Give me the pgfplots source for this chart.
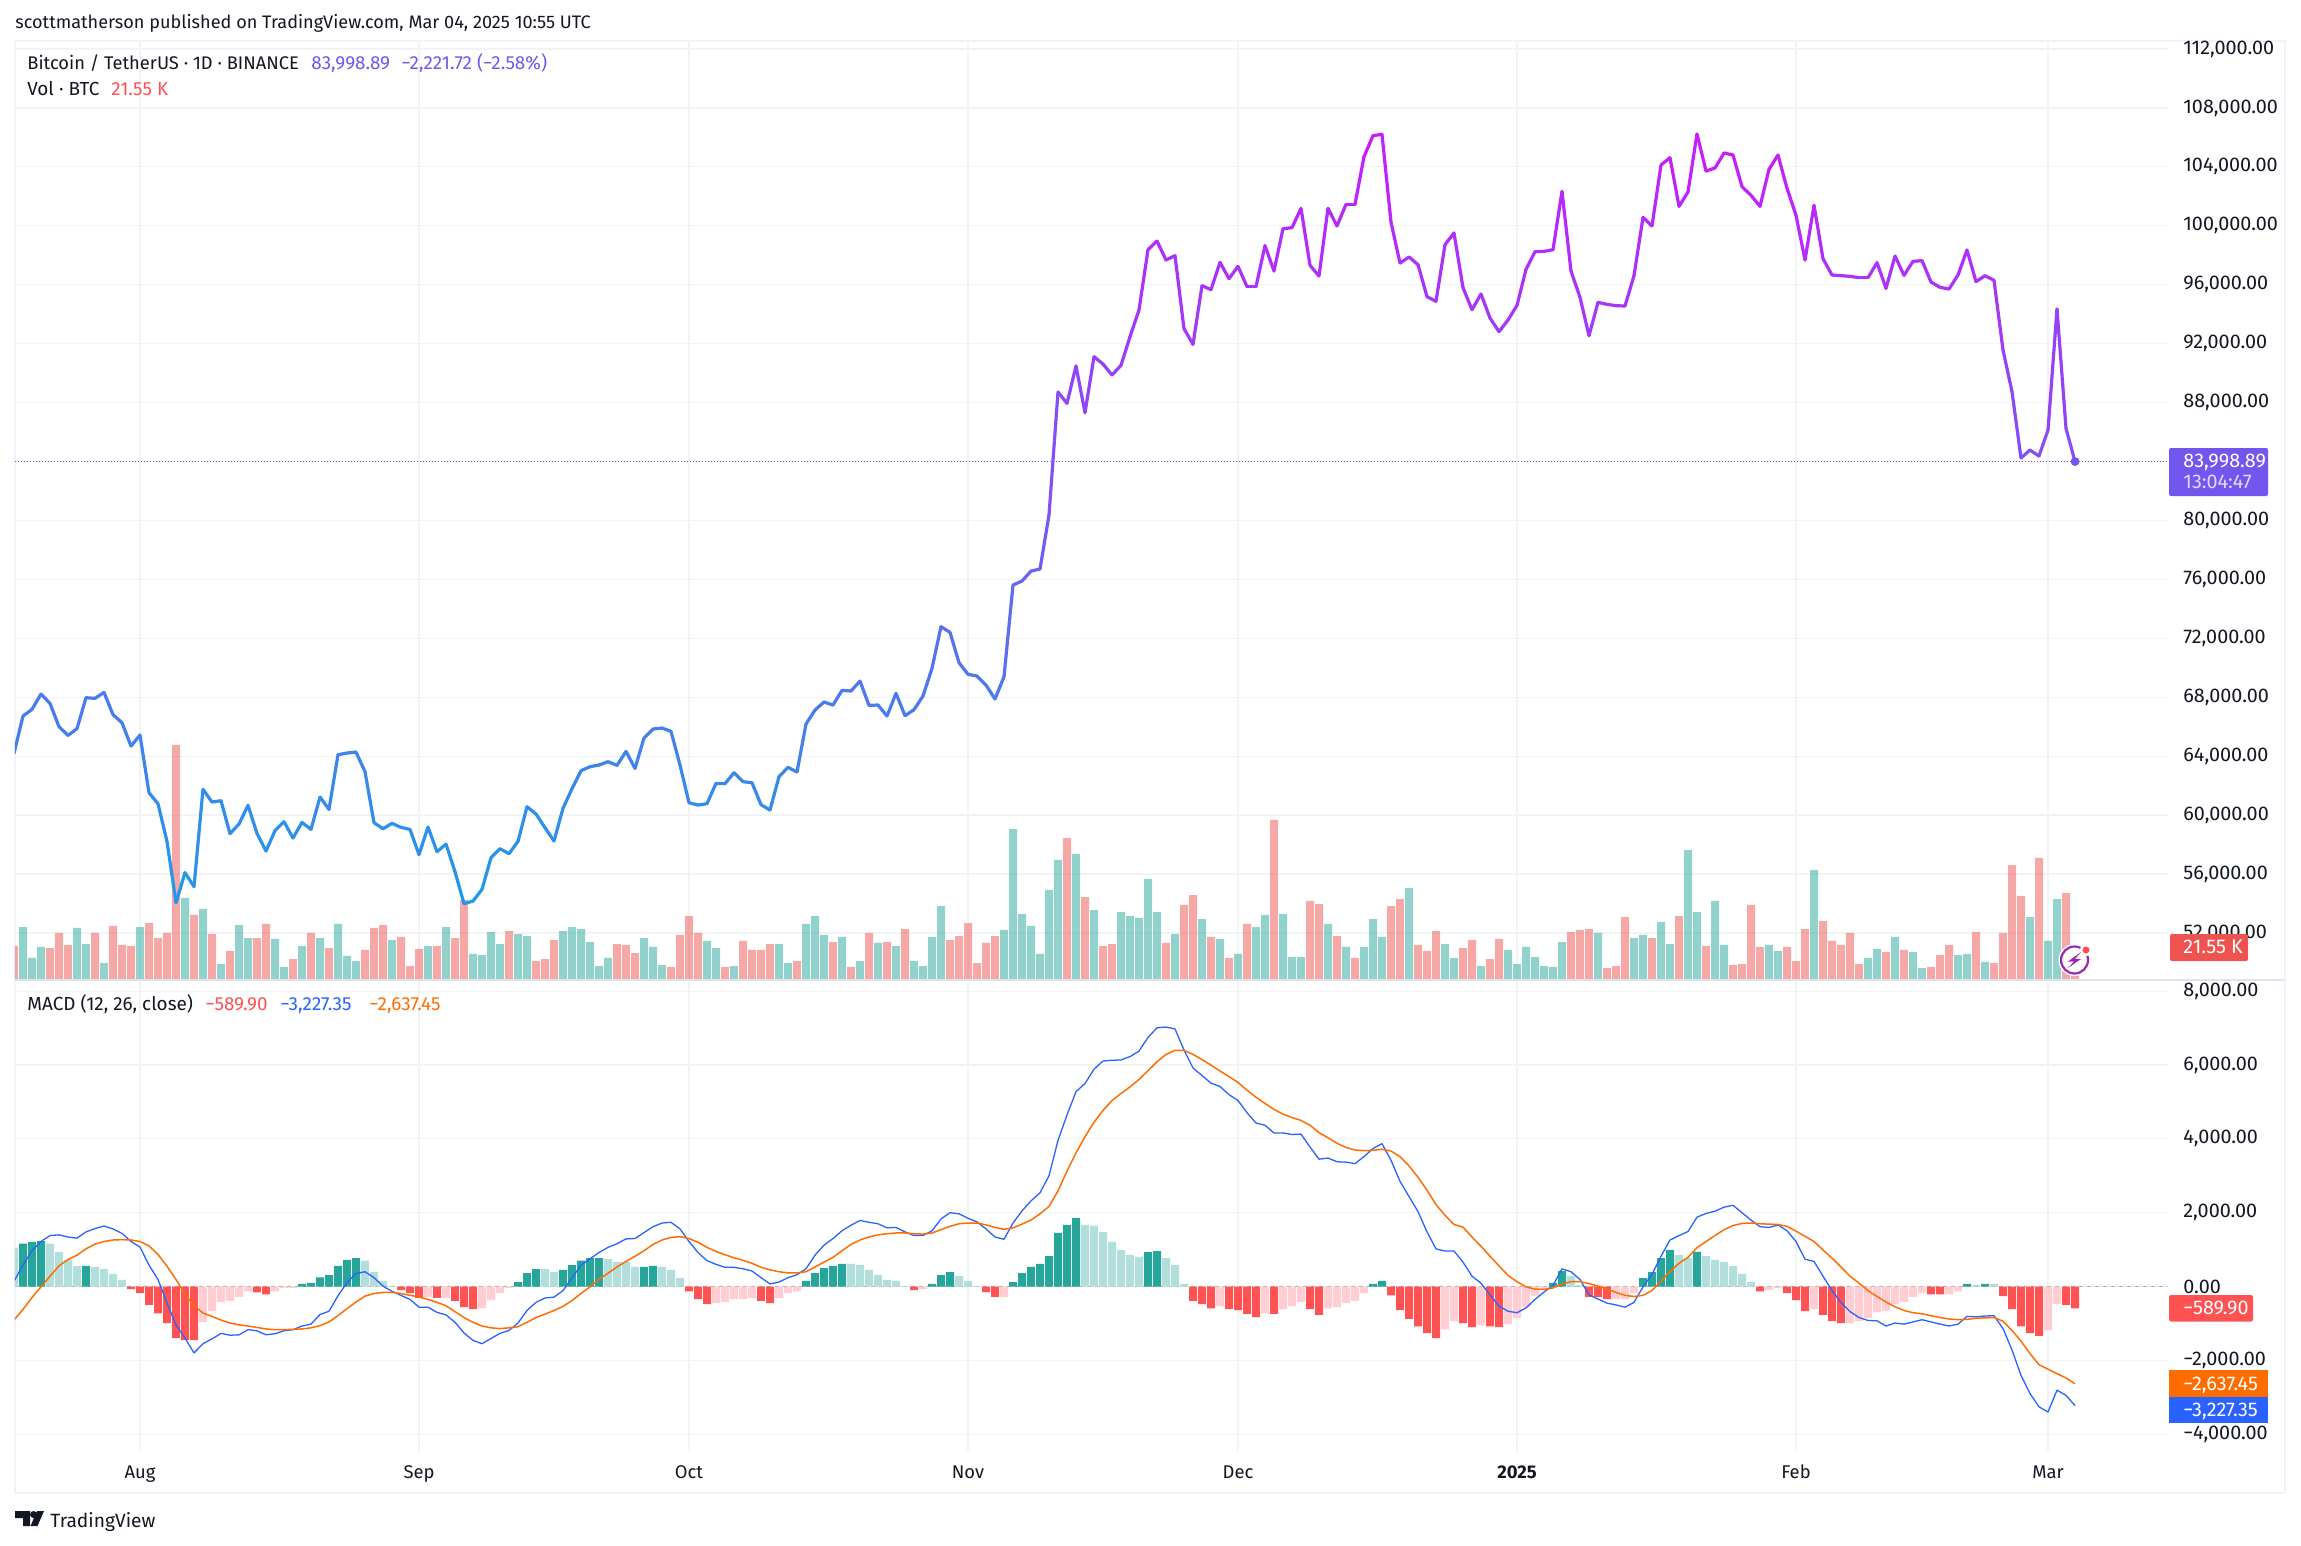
\documentclass[border=0pt]{standalone}
\usepackage{fontspec}
\setmainfont{Fira Sans}
\usepackage{pgfplots}
\usepackage{pgfplotstable}
\pgfplotsset{compat=1.18}

\definecolor{ink}{HTML}{131722}
\definecolor{gridc}{HTML}{F2F3F5}
\definecolor{framec}{HTML}{F0F3FA}
\definecolor{panec}{HTML}{E0E3EB}
\definecolor{up}{HTML}{26A69A}
\definecolor{down}{HTML}{EF5350}
\definecolor{upS}{HTML}{26A69A}
\definecolor{upW}{HTML}{B2DFDB}
\definecolor{dnS}{HTML}{FF5252}
\definecolor{dnW}{HTML}{FFCDD2}
\definecolor{macdc}{HTML}{2962FF}
\definecolor{sigc}{HTML}{FF6D00}
\definecolor{lastc}{HTML}{7356EE}
\definecolor{iconc}{HTML}{9C27B0}

\pgfplotsset{colormap={btc}{rgb255=(30,156,232) rgb255=(200,28,252)}}

\newcommand\cf{\fontsize{9.9pt}{11pt}\selectfont}
\newcommand\lf{\fontsize{9.45pt}{11pt}\selectfont}

% d = days from 1 Aug 2024; vc 1 up 0 down; hc 1 dark green, 2 light green, 3 red, 4 pink
\pgfplotstableread{
d close vol vc hist hc macd signal
-14 64189 22.2 0 1050 2 140 -910
-13 66724 34.6 1 1160 1 580 -620
-12 67176 14.4 1 1210 1 970 -300
-11 68217 21.6 1 1230 1 1220 -10
-10 67584 20.9 0 1160 2 1380 280
-9 66000 30.7 0 930 2 1400 560
-8 65411 22.9 0 720 2 1340 730
-7 65864 34.0 1 560 2 1310 850
-6 67968 23.5 1 560 1 1480 1020
-5 67923 30.7 0 530 2 1570 1150
-4 68330 11.1 1 470 2 1640 1220
-3 66814 35.3 0 340 2 1560 1260
-2 66271 22.9 0 180 2 1440 1270
-1 64687 22.2 0 -70 3 1220 1260
0 65434 34.6 1 -180 3 1070 1220
1 61519 37.2 0 -500 3 580 1100
2 60773 27.4 0 -730 3 190 870
3 58216 30.7 0 -990 3 -450 550
4 54053 153.5 0 -1400 3 -1040 190
5 56089 53.6 1 -1450 3 -1400 -210
6 55139 42.5 0 -1450 3 -1800 -520
7 61746 46.4 1 -960 4 -1550 -720
8 60886 30.0 0 -670 4 -1420 -810
9 60976 10.4 1 -420 4 -1270 -910
10 58736 18.9 0 -390 4 -1320 -990
11 59393 35.9 1 -280 4 -1310 -1040
12 60660 27.4 1 -130 4 -1170 -1070
13 58759 27.4 0 -160 3 -1200 -1110
14 57560 36.6 0 -210 3 -1310 -1150
15 58940 26.8 1 -130 4 -1280 -1170
16 59551 8.5 1 -40 4 -1200 -1170
17 58442 13.7 0 -40 4 -1170 -1160
18 59506 22.2 1 70 1 -1070 -1150
19 59031 30.7 0 100 1 -1020 -1120
20 61225 27.4 1 250 1 -760 -1060
21 60388 20.9 0 310 1 -670 -960
22 64099 36.6 1 560 1 -250 -790
23 64212 15.7 1 720 1 110 -600
24 64280 12.4 1 770 1 350 -420
25 62945 19.6 0 700 2 400 -260
26 59483 34.0 0 390 2 240 -190
27 59076 35.9 0 150 2 10 -160
28 59438 26.1 1 20 2 -130 -160
29 59166 28.1 0 -100 3 -240 -190
30 59031 9.1 0 -180 3 -350 -240
31 57311 20.2 0 -310 3 -560 -280
32 59189 22.2 1 -280 4 -560 -350
33 57515 22.2 0 -310 3 -700 -430
34 58035 34.6 1 -310 4 -770 -520
35 56157 27.4 0 -390 3 -970 -680
36 53985 52.2 0 -560 3 -1260 -840
37 54166 17.0 1 -610 3 -1460 -970
38 54958 16.3 1 -590 4 -1550 -1070
39 57107 31.3 1 -370 4 -1410 -1120
40 57718 23.5 1 -180 4 -1270 -1140
41 57379 32.0 0 -40 4 -1190 -1120
42 58216 30.0 1 120 1 -990 -1090
43 60569 28.7 1 360 1 -650 -970
44 60071 12.4 0 470 1 -430 -840
45 59144 13.7 0 470 2 -310 -750
46 58239 26.1 0 390 2 -290 -650
47 60456 32.0 1 450 1 -110 -540
48 61791 34.6 1 580 1 230 -380
49 63013 33.3 1 700 1 580 -190
50 63284 24.8 1 770 1 750 -10
51 63398 9.1 1 770 1 920 190
52 63624 14.4 1 740 2 1060 360
53 63375 23.5 0 670 2 1160 530
54 64325 22.9 0 670 2 1290 680
55 63171 17.6 0 530 2 1300 820
56 65230 27.4 1 530 1 1460 970
57 65841 21.6 1 560 1 1620 1140
58 65909 9.8 1 530 2 1720 1260
59 65683 8.5 0 450 2 1740 1330
60 63398 29.4 0 230 2 1560 1350
61 60841 41.8 0 -130 3 1220 1300
62 60682 30.7 0 -340 3 920 1200
63 60773 25.5 1 -480 3 700 1060
64 62153 20.9 1 -450 4 600 950
65 62130 8.5 0 -420 4 520 860
66 62877 9.1 1 -340 4 520 780
67 62266 25.5 0 -340 4 480 710
68 62198 19.6 0 -310 4 420 630
69 60705 19.6 0 -390 3 240 520
70 60343 23.5 0 -450 3 70 450
71 62606 23.5 1 -310 4 120 400
72 63239 11.1 1 -180 4 240 370
73 62922 12.4 0 -130 4 320 370
74 66181 36.6 1 150 1 480 400
75 67131 41.8 1 360 1 850 530
76 67674 29.4 1 500 1 1120 660
77 67471 24.8 0 560 1 1300 790
78 68466 28.1 1 610 1 1510 970
79 68421 8.5 0 610 2 1660 1140
80 69100 12.4 1 580 2 1790 1260
81 67448 30.7 0 450 2 1740 1340
82 67471 24.2 1 310 2 1700 1400
83 66724 24.8 0 180 2 1590 1430
84 68263 22.2 1 150 2 1600 1450
85 66747 33.3 0 10 2 1480 1450
86 67154 12.4 1 -100 3 1380 1430
87 68082 9.1 1 -70 4 1380 1420
88 69960 28.1 1 70 1 1510 1450
89 72788 48.3 1 310 1 1830 1540
90 72403 26.1 0 390 1 2000 1630
91 70344 28.7 0 280 2 1970 1700
92 69552 37.2 0 150 2 1850 1720
93 69439 11.1 0 10 2 1750 1720
94 68828 24.2 0 -150 3 1560 1670
95 67878 28.7 0 -280 3 1340 1600
96 69394 32.7 1 -280 4 1280 1550
97 75616 98.6 1 120 1 1720 1590
98 75887 43.1 1 360 1 2050 1690
99 76566 35.3 1 530 1 2320 1800
100 76702 17.0 1 610 1 2540 1970
101 80367 58.8 1 820 1 3000 2170
102 88717 78.4 1 1450 1 3960 2590
103 87947 92.7 0 1670 1 4650 3130
104 90482 82.3 1 1860 1 5280 3620
105 87314 54.2 0 1670 2 5500 4060
106 91115 45.7 1 1650 2 5890 4450
107 90617 22.2 0 1480 2 6110 4770
108 89871 23.5 0 1210 2 6130 5040
109 90527 44.4 1 990 2 6140 5230
110 92473 41.8 1 850 2 6230 5410
111 94283 40.5 1 800 2 6380 5610
112 98378 66.0 1 930 1 6750 5850
113 98967 44.4 1 960 1 7010 6090
114 97677 24.2 0 770 2 7030 6290
115 97971 30.0 1 580 2 6980 6400
116 93016 49.0 0 70 2 6410 6400
117 91952 55.5 0 -390 3 5920 6290
118 95935 39.8 1 -480 3 5720 6150
119 95663 28.1 0 -590 3 5510 6000
120 97519 26.8 1 -530 4 5420 5840
121 96410 14.4 0 -610 3 5200 5690
122 97247 17.0 1 -640 3 5040 5530
123 95867 36.6 0 -740 3 4710 5320
124 95867 34.6 1 -830 3 4430 5130
125 98650 42.5 1 -730 4 4370 4960
126 96930 104.5 0 -740 3 4160 4800
127 99804 43.1 1 -610 4 4160 4670
128 99872 15.0 1 -530 4 4120 4580
129 101184 15.0 1 -420 4 4130 4500
130 97315 51.6 0 -610 3 3780 4370
131 96591 49.6 0 -770 3 3450 4170
132 101184 36.6 1 -590 4 3480 4030
133 99985 28.7 0 -560 4 3380 3880
134 101456 21.6 1 -450 4 3370 3770
135 101456 14.4 0 -390 4 3330 3700
136 104691 21.6 1 -180 4 3520 3680
137 106117 39.8 1 70 1 3740 3690
138 106207 28.1 1 150 1 3870 3720
139 100234 48.3 0 -240 3 3420 3670
140 97473 52.9 0 -640 3 2850 3520
141 97881 60.1 1 -880 3 2440 3270
142 97360 22.9 0 -1080 3 2030 2960
143 95188 18.9 0 -1260 3 1480 2610
144 94871 32.0 0 -1400 3 1020 2220
145 98718 23.5 1 -1160 4 960 1930
146 99510 14.4 1 -940 4 960 1680
147 95799 20.9 0 -990 3 660 1610
148 94306 26.1 0 -1100 3 280 1340
149 95369 9.1 1 -1050 4 90 1090
150 93740 13.7 0 -1080 3 -230 820
151 92812 26.8 0 -1100 3 -530 560
152 93604 19.6 1 -1020 4 -670 300
153 94600 10.4 1 -850 4 -710 130
154 97043 21.6 1 -560 4 -580 -10
155 98243 15.0 1 -260 4 -350 -70
156 98265 9.1 1 -70 4 -150 -80
157 98378 8.5 1 100 1 30 -40
158 102338 24.8 1 420 1 480 70
159 96930 31.3 0 280 2 400 130
160 95143 32.7 0 40 2 190 130
161 92541 33.3 0 -280 3 -230 80
162 94803 30.7 1 -280 3 -340 10
163 94668 7.8 0 -340 3 -450 -70
164 94577 9.1 0 -340 4 -500 -160
165 94555 41.1 0 -340 4 -560 -240
166 96614 27.4 1 -180 4 -430 -270
167 100573 29.4 1 230 1 -10 -240
168 99985 27.4 0 390 1 330 -110
169 104126 37.9 1 770 1 820 140
170 104624 23.5 1 990 1 1260 400
171 101320 41.8 0 850 2 1380 630
172 102293 84.9 1 770 2 1490 790
173 106230 44.4 1 940 1 1880 1050
174 103718 22.2 0 820 2 1980 1220
175 103922 51.6 1 720 2 2040 1380
176 104940 22.9 1 670 2 2150 1540
177 104805 9.8 0 560 2 2200 1650
178 102655 10.4 0 340 2 2000 1710
179 102067 49.0 0 120 2 1800 1720
180 101320 21.6 0 -130 3 1620 1700
181 103832 22.9 1 -100 4 1600 1690
182 104805 18.9 1 -40 4 1670 1680
183 102542 21.6 0 -180 3 1510 1630
184 100709 12.4 0 -370 3 1220 1500
185 97677 33.3 0 -670 3 740 1360
186 101388 71.8 1 -610 4 680 1220
187 97768 38.5 0 -770 3 280 990
188 96659 25.5 0 -940 3 -110 770
189 96614 22.9 0 -990 3 -430 530
190 96568 30.7 0 -990 4 -680 280
191 96478 10.4 0 -940 4 -840 90
192 96478 14.4 1 -850 4 -920 -110
193 97496 20.2 1 -700 4 -930 -270
194 95754 18.3 0 -670 4 -1070 -420
195 97949 28.1 1 -480 4 -990 -550
196 96636 19.6 0 -420 4 -1020 -650
197 97587 18.3 1 -280 4 -960 -710
198 97632 7.8 1 -180 4 -900 -740
199 96184 8.5 0 -210 3 -960 -790
200 95822 16.3 0 -210 3 -1020 -840
201 95708 22.9 0 -210 4 -1070 -880
202 96659 16.3 1 -130 4 -1020 -900
203 98356 17.0 1 70 1 -810 -890
204 96206 31.3 0 40 2 -820 -860
205 96614 11.8 1 70 1 -800 -850
206 96297 11.1 0 70 2 -790 -840
207 91568 30.7 0 -260 3 -1140 -940
208 88739 75.1 0 -610 3 -1720 -1190
209 84237 54.9 0 -1080 3 -2410 -1480
210 84780 41.1 1 -1260 3 -2900 -1820
211 84372 79.7 0 -1340 3 -3260 -2120
212 86137 25.5 1 -1190 4 -3400 -2240
213 94351 52.9 1 -480 4 -2810 -2360
214 86250 56.8 0 -500 3 -2950 -2480
215 83998.89 21.55 0 -589.90 3 -3227.35 -2637.45
}\btc

\pgfplotsset{
  pane/.style={
    scale only axis, width=1076.5pt,
    xmin=-13.889, xmax=225.333,
    axis line style={draw=none}, major tick length=0pt,
    scaled ticks=false,
    xtick={0,31,61,92,122,153,184,212},
    xmajorgrids, ymajorgrids,
    major grid style={draw=gridc, line width=0.6pt},
    yticklabel pos=right,
    yticklabel style={font=\cf, text=ink, anchor=west, inner sep=0pt, xshift=7.5pt},
    xticklabel style={font=\fontsize{9.2pt}{11pt}\selectfont, text=ink},
  },
  overlay pane/.style={
    scale only axis, width=1076.5pt, height=469.5pt,
    xmin=-13.889, xmax=225.333, hide axis,
    at={(7.5pt,-490pt)}, anchor=south west,
  },
  volbar/.style={ybar, bar width=4pt, bar shift=0pt, draw=none, fill opacity=0.5},
  histbar/.style={ybar, bar width=4pt, bar shift=0pt, draw=none},
}

\begin{document}
\begin{tikzpicture}
\useasboundingbox (0pt,0pt) rectangle (1150.5pt,-773pt);
\fill[white] (0pt,0pt) rectangle (1150.5pt,-773pt);
\draw[framec, line width=1pt] (7.5pt,-20.5pt) rectangle (1142.5pt,-746.3pt);

% price scale and grid
\begin{axis}[pane, height=469.5pt, at={(7.5pt,-490pt)}, anchor=south west,
    ymin=48806, ymax=112543,
    xticklabel=\empty,
    ytick={52000,56000,60000,64000,68000,72000,76000,80000,88000,92000,96000,100000,104000,108000,112000},
    yticklabels={{52,000.00},{56,000.00},{60,000.00},{64,000.00},{68,000.00},{72,000.00},{76,000.00},{80,000.00},{88,000.00},{92,000.00},{96,000.00},{100,000.00},{104,000.00},{108,000.00},{112,000.00}},
]
\addplot[lastc, line width=0.5pt, dash pattern=on 0.6pt off 0.9pt] coordinates {(-13.889,83998.89) (225.333,83998.89)};
\end{axis}

% volume
\begin{axis}[overlay pane, ymin=0, ymax=613.2]
\addplot[volbar, fill=up] table[x=d, y=vol, restrict expr to domain={\thisrow{vc}}{1:1}] {\btc};
\addplot[volbar, fill=down] table[x=d, y=vol, restrict expr to domain={\thisrow{vc}}{0:0}] {\btc};
\end{axis}

% close line, coloured by price
\begin{axis}[overlay pane, ymin=48806, ymax=112543,
    colormap name=btc, point meta min=54000, point meta max=106000]
\addplot[mesh, point meta=y, line width=1.6pt, line cap=round, line join=round] table[x=d, y=close] {\btc};
\addplot[only marks, lastc, mark=*, mark size=2pt, mark options={draw=lastc, fill=lastc}] coordinates {(215,83998.89)};
\end{axis}

% MACD pane
\begin{axis}[pane, height=235.5pt, at={(7.5pt,-725.5pt)}, anchor=south west,
    ymin=-4458, ymax=8306,
    xticklabels={Aug,Sep,Oct,Nov,Dec,{\bfseries 2025},Feb,Mar},
    xticklabel style={anchor=base, yshift=-13.5pt, inner sep=0pt},
    ytick={-4000,-2000,0,2000,4000,6000,8000},
    yticklabels={{−4,000.00},{−2,000.00},{0.00},{2,000.00},{4,000.00},{6,000.00},{8,000.00}},
]
\addplot[gray!70, line width=0.5pt, dash pattern=on 2pt off 2pt] coordinates {(-13.889,0) (225.333,0)};
\addplot[histbar, fill=upS] table[x=d, y=hist, restrict expr to domain={\thisrow{hc}}{1:1}] {\btc};
\addplot[histbar, fill=upW] table[x=d, y=hist, restrict expr to domain={\thisrow{hc}}{2:2}] {\btc};
\addplot[histbar, fill=dnS] table[x=d, y=hist, restrict expr to domain={\thisrow{hc}}{3:3}] {\btc};
\addplot[histbar, fill=dnW] table[x=d, y=hist, restrict expr to domain={\thisrow{hc}}{4:4}] {\btc};
\addplot[macdc, line width=0.65pt, line join=round] table[x=d, y=macd] {\btc};
\addplot[sigc, line width=0.75pt, line join=round] table[x=d, y=signal] {\btc};
\end{axis}

% header, legends, tags (positions in image pixels)
\begin{scope}[x=0.5pt, y=-0.5pt, every node/.style={anchor=base west, inner sep=0pt, font=\lf, text=ink}]
\draw[panec, line width=0.8pt] (15,980) -- (2285,980);

\node[font=\fontsize{9.05pt}{11pt}\selectfont] at (15,29) {scottmatherson published on TradingView.com, Mar 04, 2025 10:55 UTC};
\node[font=\fontsize{9.15pt}{11pt}\selectfont] at (27,70) {Bitcoin / TetherUS · 1D · BINANCE};
\node[text=lastc] at (311,70) {83,998.89};
\node[text=lastc] at (401,70) {−2,221.72 (−2.58\%)};
\node at (27,96) {Vol · BTC};
\node[text=dnS] at (111,96) {21.55 K};
\node at (27,1010) {MACD (12, 26, close)};
\node[text=dnS] at (205,1010) {−589.90};
\node[text=macdc] at (280,1010) {−3,227.35};
\node[text=sigc] at (369,1010) {−2,637.45};

\fill[lastc, rounded corners=1pt] (2169,448) rectangle (2268,496);
\node[font=\cf, text=white] at (2183,467) {83,998.89};
\node[font=\cf, text=white!78!lastc] at (2183,488) {13:04:47};
\fill[down, rounded corners=1pt] (2170,934) rectangle (2248,961);
\node[font=\cf, text=white] at (2183,953) {21.55 K};
\fill[dnS, rounded corners=1pt] (2169,1295) rectangle (2253,1321.5);
\node[font=\cf, text=white] at (2183,1314.5) {−589.90};
\fill[sigc] (2169,1370) rectangle (2268,1397);
\node[font=\cf, text=white] at (2183,1390) {−2,637.45};
\fill[macdc] (2169,1397) rectangle (2268,1422.6);
\node[font=\cf, text=white] at (2183,1416.5) {−3,227.35};

% lightning badge
\fill[white] (2074.5,960) circle (16);
\draw[iconc, line width=1.1pt] (2074.5,960) circle (13.5);
\fill[white] (2086,950) circle (6);
\fill[dnS] (2086,950) circle (3.5);
\fill[iconc] (2081,952) -- (2068,961.5) -- (2074,961.5) -- (2068,968) -- (2081,959) -- (2075,959) -- cycle;

% footer logo
\fill[ink] (15,1511) -- (30,1511) -- (30,1526) -- (23,1526) -- (23,1518) -- (15,1518) -- cycle;
\fill[ink] (33.5,1514.5) circle (3.5);
\fill[ink] (37,1511) -- (44,1511) -- (37.5,1526) -- (30.5,1526) -- cycle;
\node[font=\fontsize{9.6pt}{12pt}\selectfont] at (50,1527) {TradingView};
\end{scope}
\end{tikzpicture}
\end{document}
